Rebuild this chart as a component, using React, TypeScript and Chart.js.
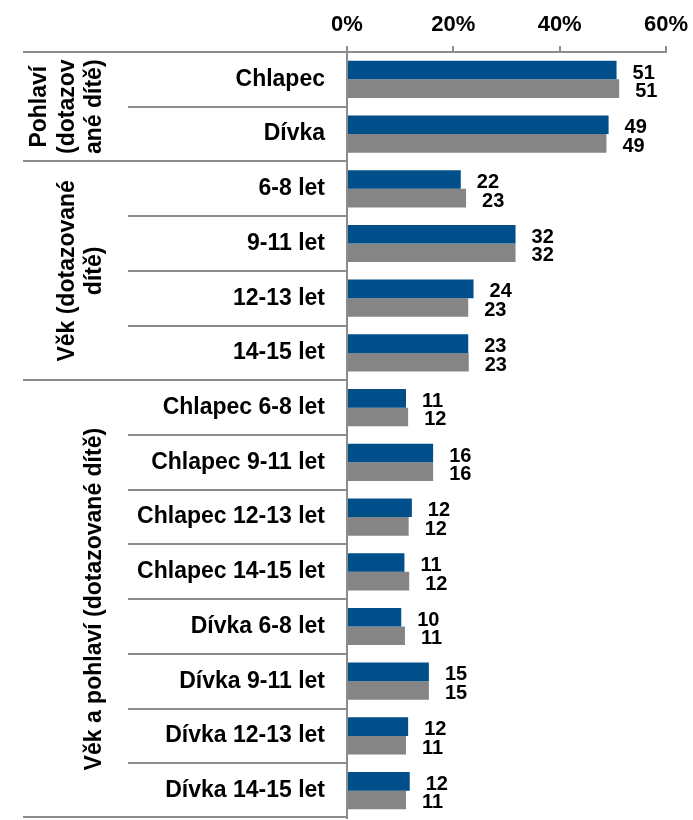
import React, { useEffect, useRef } from "react";
import { Chart, registerables } from "chart.js";

Chart.register(...registerables);

const categories = [
  "Chlapec",
  "Dívka",
  "6-8 let",
  "9-11 let",
  "12-13 let",
  "14-15 let",
  "Chlapec 6-8 let",
  "Chlapec 9-11 let",
  "Chlapec 12-13 let",
  "Chlapec 14-15 let",
  "Dívka 6-8 let",
  "Dívka 9-11 let",
  "Dívka 12-13 let",
  "Dívka 14-15 let",
];

const seriesBlue = [50.7, 49.2, 21.4, 31.7, 23.8, 22.8, 11.1, 16.2, 12.2, 10.8, 10.2, 15.4, 11.5, 11.8];
const seriesGray = [51.2, 48.8, 22.4, 31.7, 22.8, 22.9, 11.5, 16.2, 11.6, 11.7, 10.9, 15.4, 11.1, 11.1];
const labelsBlue = ["51", "49", "22", "32", "24", "23", "11", "16", "12", "11", "10", "15", "12", "12"];
const labelsGray = ["51", "49", "23", "32", "23", "23", "12", "16", "12", "12", "11", "15", "11", "11"];

const groups = [
  { lines: ["Pohlaví", "(dotazov", "ané dítě)"], start: 0, end: 2 },
  { lines: ["Věk (dotazované", "dítě)"], start: 2, end: 6 },
  { lines: ["Věk a pohlaví (dotazované dítě)"], start: 6, end: 14 },
];

const xTicks = [0, 20, 40, 60];

const FONT = "'Liberation Sans', Arial, sans-serif";
const LINE = "#8c8c8c";

const overlayPlugin = {
  id: "overlay",
  afterDatasetsDraw(chart: any) {
    const ctx = chart.ctx;
    const area = chart.chartArea;
    const n = categories.length;
    const step = (area.bottom - area.top) / n;
    const boundary = (i: number) => area.top + i * step;

    ctx.save();
    ctx.strokeStyle = LINE;
    ctx.lineWidth = 2;
    for (let i = 1; i < n; i++) {
      const isGroup = groups.some((g) => g.start === i);
      const xs = isGroup ? 23 : 128;
      const yy = Math.round(boundary(i));
      ctx.beginPath();
      ctx.moveTo(xs, yy);
      ctx.lineTo(area.left, yy);
      ctx.stroke();
    }
    [0, n].forEach((i) => {
      const yy = Math.round(boundary(i)) + (i === 0 ? 0 : -1);
      ctx.beginPath();
      ctx.moveTo(23, yy);
      ctx.lineTo(area.left, yy);
      ctx.stroke();
    });

    ctx.fillStyle = "#000";
    ctx.font = `bold 23px ${FONT}`;
    ctx.textAlign = "center";
    ctx.textBaseline = "middle";
    groups.forEach((g) => {
      const cy = (boundary(g.start) + boundary(g.end)) / 2;
      const lineH = 27.5;
      const nL = g.lines.length;
      const lastX = 95;
      g.lines.forEach((t, k) => {
        const cx = lastX - (nL - 1 - k) * lineH;
        ctx.save();
        ctx.translate(cx, cy);
        ctx.rotate(-Math.PI / 2);
        ctx.fillText(t, 0, 0);
        ctx.restore();
      });
    });

    ctx.font = `bold 20px ${FONT}`;
    ctx.textAlign = "left";
    ctx.textBaseline = "middle";
    const lbls = [labelsBlue, labelsGray];
    chart.data.datasets.forEach((ds: any, di: number) => {
      const meta = chart.getDatasetMeta(di);
      meta.data.forEach((el: any, i: number) => {
        ctx.fillText(lbls[di][i], el.x + 16, el.y + 3);
      });
    });
    ctx.restore();
  },
};

export default function App() {
  const ref = useRef<HTMLCanvasElement | null>(null);

  useEffect(() => {
    document.body.style.margin = "0";
    const canvas = ref.current;
    if (!canvas) return;
    const chart = new Chart(canvas, {
      type: "bar",
      data: {
        labels: categories,
        datasets: [
          {
            data: seriesBlue,
            backgroundColor: "#004F8B",
            borderWidth: 0,
            categoryPercentage: 0.68,
            barPercentage: 1,
          },
          {
            data: seriesGray,
            backgroundColor: "#858585",
            borderWidth: 0,
            categoryPercentage: 0.68,
            barPercentage: 1,
          },
        ],
      },
      options: {
        indexAxis: "y",
        animation: false,
        responsive: false,
        maintainAspectRatio: false,
        layout: { padding: { top: 0, right: 27, bottom: 2, left: 0 } },
        plugins: {
          legend: { display: false },
          tooltip: { enabled: false },
        },
        scales: {
          x: {
            position: "top",
            min: 0,
            max: 60,
            afterFit(scale: any) {
              scale.height = 52;
              scale.paddingLeft = 0;
              scale.paddingRight = 0;
            },
            afterBuildTicks(scale: any) {
              scale.ticks = xTicks.map((v) => ({ value: v }));
            },
            grid: {
              drawOnChartArea: false,
              drawTicks: true,
              tickLength: 6,
              color: LINE,
              lineWidth: 2,
            },
            border: { display: true, color: LINE, width: 2 },
            ticks: {
              color: "#000",
              padding: 8,
              font: { family: FONT, size: 22, weight: "bold" },
              callback: (v: any) => v + "%",
            },
          },
          y: {
            afterFit(scale: any) {
              scale.width = 347;
              scale.paddingTop = 0;
              scale.paddingBottom = 0;
            },
            grid: { display: false, drawTicks: false },
            border: { display: true, color: LINE, width: 2 },
            ticks: {
              color: "#000",
              padding: 22,
              font: { family: FONT, size: 23, weight: "bold" },
            },
          },
        },
      },
      plugins: [overlayPlugin],
    });
    return () => chart.destroy();
  }, []);

  return (
    <div style={{ width: 693, height: 820 }}>
      <canvas ref={ref} width={693} height={820} style={{ display: "block" }} />
    </div>
  );
}
